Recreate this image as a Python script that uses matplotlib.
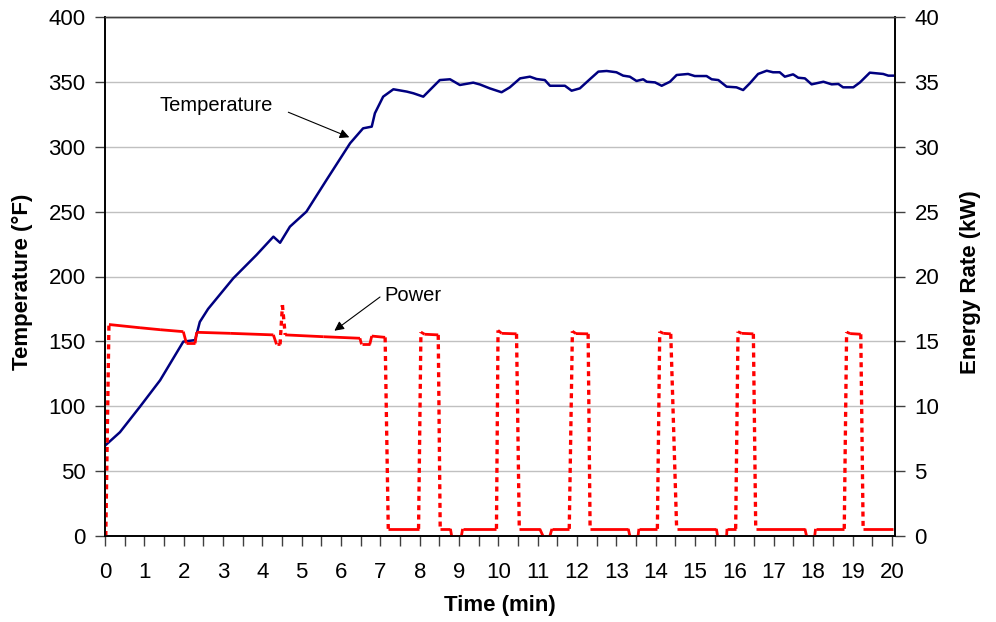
import numpy as np
import matplotlib.pyplot as plt
from matplotlib.collections import LineCollection

plt.rcParams['font.family'] = ['Liberation Sans', 'DejaVu Sans']

# Oven temperature (deg F) against time (min)
tempTime = [0.0, 0.38, 0.89, 1.40, 1.99, 2.29, 2.41, 2.62, 3.26, 3.85,
            4.28, 4.45, 4.70, 5.12, 5.63, 6.23, 6.56, 6.78, 6.86, 7.07,
            7.33, 7.67, 7.84, 8.09, 8.51, 8.77, 9.02, 9.36, 9.53, 9.78,
            10.08, 10.29, 10.55, 10.80, 10.97, 11.18, 11.31, 11.69, 11.86, 12.07,
            12.33, 12.54, 12.75, 13.0, 13.17, 13.34, 13.51, 13.68, 13.77, 13.98,
            14.15, 14.36, 14.53, 14.82, 14.99, 15.29, 15.42, 15.59, 15.80, 16.05,
            16.22, 16.39, 16.60, 16.82, 16.98, 17.15, 17.28, 17.49, 17.62, 17.79,
            17.96, 18.26, 18.47, 18.64, 18.76, 19.02, 19.19, 19.44, 19.61, 19.78,
            19.91, 20.08]
tempValue = [69.6, 80, 99.7, 120, 149.8, 151, 165, 175, 198.6, 216.6,
             230.7, 226, 238.4, 250, 274.4, 302.7, 314.2, 315.5, 325.8, 338.6,
             344.3, 342.5, 341.2, 338.6, 351.4, 352, 347.6, 349.4, 348, 345,
             342, 345.8, 352.7, 354, 352.2, 351.4, 347, 347, 343.2, 345,
             352.2, 357.9, 358.4, 357.4, 354.8, 354, 350.7, 352, 350.1, 349.6,
             347, 350.1, 355.3, 356.1, 354.5, 354.5, 352, 351.4, 346.3, 345.8,
             343.7, 348.9, 356.1, 358.6, 357.4, 357.4, 354, 355.8, 353.2, 352.7,
             348.1, 350.1, 348.1, 348.4, 345.8, 345.8, 349.6, 357.1, 356.6, 356.1,
             354.8, 354.8]

# Energy rate (kW) against time (min)
powerTime = [0.02, 0.10, 0.89, 1.40, 1.99, 2.07, 2.29, 2.33, 3.18, 4.28,
             4.36, 4.45, 4.51, 4.58, 5.55, 6.48, 6.52, 6.73, 6.78, 7.12,
             7.20, 7.97, 8.03, 8.12, 8.47, 8.52, 8.78, 8.81, 9.06, 9.09,
             9.95, 9.99, 10.08, 10.46, 10.53, 11.05, 11.13, 11.31, 11.36, 11.80,
             11.88, 11.97, 12.28, 12.33, 13.30, 13.34, 13.55, 13.57, 14.04, 14.10,
             14.19, 14.38, 14.53, 15.54, 15.57, 15.80, 15.81, 16.03, 16.09, 16.18,
             16.48, 16.54, 17.79, 17.83, 18.04, 18.06, 18.79, 18.85, 18.94, 19.21,
             19.27, 20.03]
powerValue = [0.0, 16.3, 16.05, 15.9, 15.75, 14.85, 14.85, 15.7, 15.62, 15.5,
              14.77, 14.77, 17.8, 15.5, 15.36, 15.24, 14.77, 14.77, 15.41, 15.31,
              0.55, 0.55, 15.72, 15.55, 15.5, 0.55, 0.55, 0.02, 0.02, 0.55,
              0.55, 15.85, 15.62, 15.58, 0.55, 0.55, 0.02, 0.02, 0.55, 0.55,
              15.78, 15.6, 15.58, 0.55, 0.55, 0.02, 0.02, 0.55, 0.55, 15.75,
              15.62, 15.58, 0.55, 0.55, 0.02, 0.02, 0.55, 0.55, 15.75, 15.62,
              15.58, 0.55, 0.55, 0.02, 0.02, 0.55, 0.55, 15.72, 15.6, 15.55,
              0.55, 0.55]

fig = plt.figure(figsize=(9.96, 6.22), dpi=100)
ax = fig.add_axes([105/996, 1 - 536/622, 790/996, 519/622])
ax2 = ax.twinx()

# temperature on the left axis
ax.plot(tempTime, tempValue, color='#000080', lw=1.8, zorder=3)

# power on the right axis: level parts solid, the jumps dotted
pts = np.column_stack([powerTime, powerValue])
segs = np.stack([pts[:-1], pts[1:]], axis=1)
jump = np.abs(np.diff(powerValue)) > 2
ax2.add_collection(LineCollection(segs[~jump], colors='#ff0000', linewidths=2.0,
                                  capstyle='butt'))
ax2.add_collection(LineCollection(segs[jump], colors='#ff0000', linewidths=2.4,
                                  linestyles=[(0, (1.5, 1.3))], capstyle='butt'))

ax.set_xlim(0, 20.08)
ax.set_ylim(0, 400)
ax2.set_ylim(0, 40)
ax.set_xticks(np.arange(0, 21, 1))
ax.set_xticks(np.arange(0, 20.5, 0.5), minor=True)
ax.set_yticks(np.arange(0, 401, 50))
ax2.set_yticks(np.arange(0, 41, 5))

ax.grid(axis='y', color='#c0c0c0', lw=1)
ax.set_axisbelow(True)

for a in (ax, ax2):
    a.tick_params(labelsize=16, length=7, width=1, color='#404040')
    a.tick_params(which='minor', length=7, width=1, color='#404040')
    for s in a.spines.values():
        s.set_color('#000000')
        s.set_linewidth(1.2)
    a.spines['top'].set_color('#404040')
    a.spines['top'].set_linewidth(1)
ax.tick_params(axis='x', pad=12)
ax.tick_params(axis='y', pad=7)
ax2.tick_params(axis='y', pad=7)

ax.set_xlabel('Time (min)', fontsize=16, fontweight='bold', va='center')
ax.xaxis.set_label_coords(0.5, (536 - 606) / 519)
ax.set_ylabel('Temperature (°F)', fontsize=16, fontweight='bold', va='center')
ax.yaxis.set_label_coords((22 - 105) / 790, 0.49)
ax2.set_ylabel('Energy Rate (kW)', fontsize=16, fontweight='bold', va='center',
               rotation=90)
ax2.yaxis.set_label_coords((970 - 105) / 790, 0.49)

arrow = dict(arrowstyle='-|>', color='black', lw=0.8, mutation_scale=14,
             shrinkA=0, shrinkB=0)
ax.annotate('', xy=(6.21, 307.3), xytext=(4.66, 326.6), arrowprops=arrow)
ax.text(2.82, 331.6, 'Temperature', fontsize=14.5, ha='center', va='center')
ax.annotate('', xy=(5.83, 158.2), xytext=(6.99, 184.2), arrowprops=arrow)
ax.text(7.83, 185.7, 'Power', fontsize=14.5, ha='center', va='center')

fig.savefig('out.png', dpi=100)
